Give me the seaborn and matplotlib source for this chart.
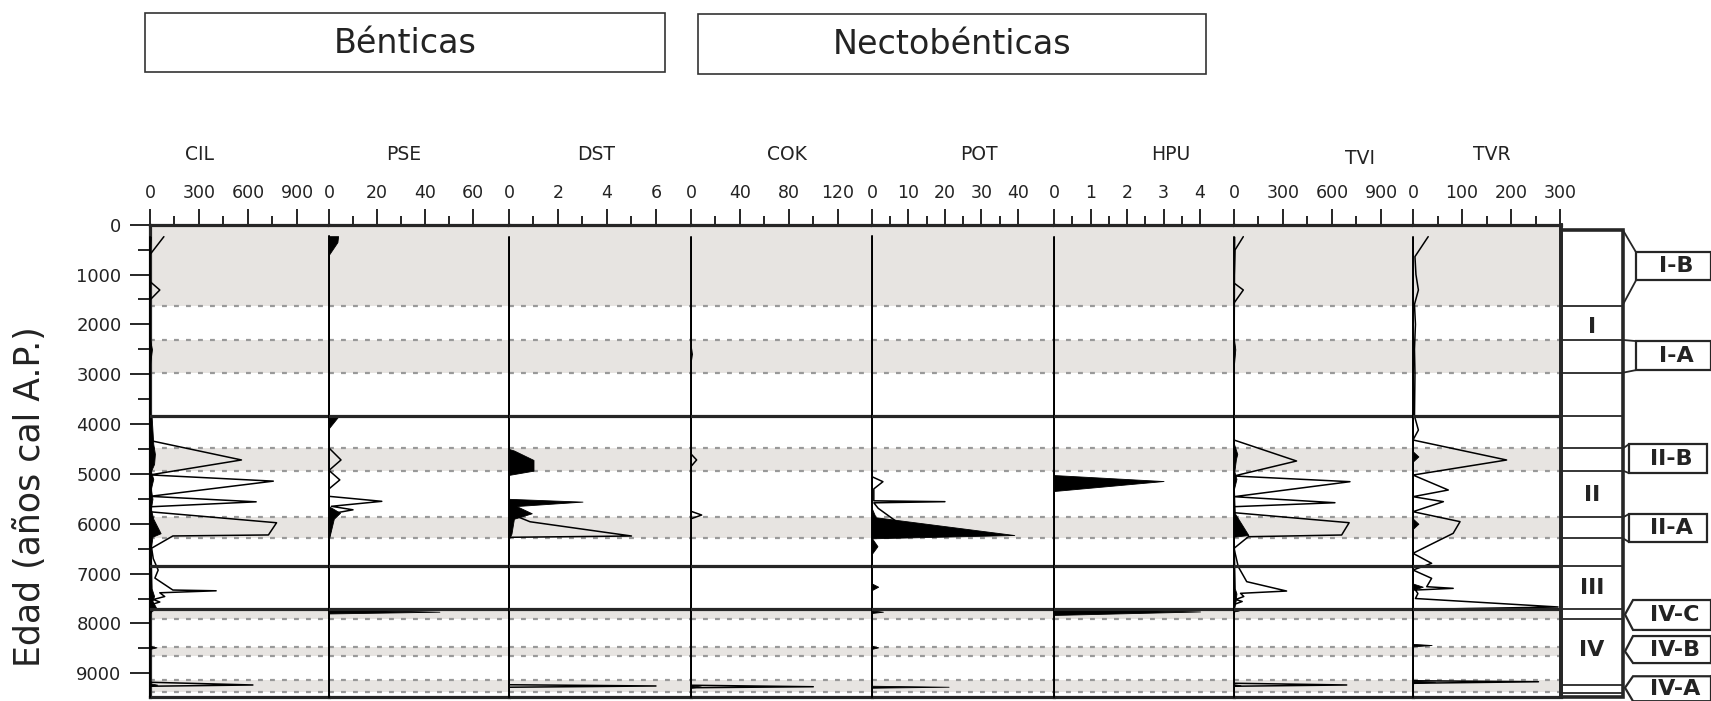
import matplotlib
matplotlib.use("Agg")
import matplotlib.pyplot as plt
import seaborn as sns
import pandas as pd
from matplotlib.patches import Rectangle, Polygon

sns.set_theme(style="white")
plt.rcParams['font.family'] = ['DejaVu Sans']

# ---------------- data ----------------
GROUPS = ["Bénticas", "Nectobénticas"]
TAXA = ["CIL", "PSE", "DST", "COK", "POT", "HPU", "TVI", "TVR"]
AXIS_MAX = [1096, 75, 7.43, 148, 49.9, 4.93, 1096, 302]
MAJOR_TICKS = [[0, 300, 600, 900], [0, 20, 40, 60], [0, 2, 4, 6], [0, 40, 80, 120],
               [0, 10, 20, 30, 40], [0, 1, 2, 3, 4], [0, 300, 600, 900], [0, 100, 200, 300]]
MINOR_STEP = [150, 10, 1, 20, 5, 0.5, 150, 50]

# exaggerated (outline) curves: (age, value)
CIL_LINE = [(240, 85), (600, 0), (1140, 0), (1310, 60), (1510, 0), (4330, 0), (4720, 560),
            (5020, 0), (5145, 755), (5450, 0), (5560, 650), (5660, 0), (5760, 0), (5980, 775),
            (6225, 725), (6245, 140), (6490, 10), (6700, 20), (6930, 50), (7090, 30), (7330, 140),
            (7345, 405), (7385, 60), (7460, 90), (7520, 20), (7570, 60), (7620, 10), (7720, 0),
            (9180, 0), (9235, 630), (9260, 0), (9450, 0)]
CIL_FILL = [(240, 5), (500, 0), (2300, 0), (2500, 12), (2800, 0), (3800, 0), (3850, 10),
            (4400, 20), (4600, 30), (4800, 25), (4950, 5), (5100, 20), (5300, 5), (5500, 15),
            (5700, 5), (5900, 20), (6190, 65), (6260, 15), (6500, 5), (7300, 10), (7450, 25),
            (7550, 15), (7700, 40), (7750, 10), (7800, 0), (8450, 0), (8480, 40), (8510, 0),
            (9200, 0), (9230, 45), (9260, 0), (9450, 0)]

PSE_LINE = [(230, 0), (4480, 0), (4720, 5), (4930, 0), (5120, 4.5), (5300, 0), (5450, 0),
            (5550, 22), (5650, 1), (5720, 10), (5790, 2), (6300, 0), (9450, 0)]
PSE_FILL = [(230, 3.8), (350, 3.5), (600, 0), (3830, 0), (3840, 4), (4080, 0), (5650, 0),
            (5780, 4.6), (5900, 2), (6300, 0), (7715, 0), (7765, 46), (7800, 0), (9450, 0)]

DST_LINE = [(250, 0), (5790, 0), (5960, 0.86), (6246, 5.0), (6272, 0), (9230, 0), (9255, 6.0),
            (9280, 0), (9450, 0)]
DST_FILL = [(250, 0), (4500, 0), (4530, 0.2), (4720, 1.0), (4935, 1.0), (5020, 0), (5500, 0),
            (5556, 3.0), (5645, 0.3), (5790, 0.93), (5900, 0.2), (6200, 0.1), (6300, 0), (9450, 0)]

COK_LINE = [(250, 0), (2450, 0), (2600, 1), (2750, 0), (4600, 0), (4720, 4.6), (4850, 0),
            (5750, 0), (5825, 8.7), (5900, 0), (9240, 0), (9270, 100), (9290, 0), (9450, 0)]
COK_FILL = [(250, 0), (9240, 0), (9265, 8), (9290, 0), (9450, 0)]

POT_LINE = [(230, 0), (5056, 0), (5156, 3), (5300, 0.5), (5540, 0.5), (5557, 20), (5580, 0.5),
            (5690, 1.7), (5960, 6.8), (6000, 0), (9450, 0)]
POT_FILL = [(230, 0), (5700, 0), (5870, 1.0), (6226, 39), (6292, 0), (6450, 1.5), (6600, 0),
            (7200, 0), (7263, 1.7), (7330, 0), (7740, 0), (7765, 3), (7790, 0), (8450, 0),
            (8480, 1.7), (8510, 0), (9250, 0), (9270, 21), (9290, 0), (9450, 0)]

HPU_LINE = [(250, 0), (9450, 0)]
HPU_FILL = [(250, 0), (5023, 0), (5143, 3.0), (5343, 0), (7695, 0), (7760, 4.0), (7830, 0),
            (9450, 0)]

TVI_LINE = [(240, 57), (508, 6), (1170, 0), (1310, 57), (1573, 0), (4320, 0), (4741, 383),
            (5042, 0), (5156, 710), (5457, 0), (5578, 618), (5658, 0), (5778, 0), (5979, 705),
            (6226, 659), (6260, 88), (6493, 0), (6861, 26), (7162, 78), (7350, 322), (7396, 40),
            (7460, 60), (7520, 10), (7560, 50), (7620, 0), (9200, 0), (9235, 690), (9260, 0),
            (9450, 0)]
TVI_FILL = [(240, 3), (2300, 0), (2500, 8), (2800, 0), (4400, 0), (4600, 20), (4700, 12),
            (4950, 2), (5100, 15), (5300, 0), (5791, 5), (6226, 88), (6260, 0), (7300, 5),
            (7400, 15), (7550, 10), (7720, 0), (7740, 30), (7760, 0), (9220, 0), (9240, 40),
            (9260, 0), (9450, 0)]

TVR_LINE = [(240, 31), (640, 4), (1000, 6), (1310, 11), (1600, 3), (2000, 5), (2500, 3),
            (3000, 4), (3838, 3), (4120, 11), (4320, 0), (4721, 191), (5023, 0), (5323, 72),
            (5457, 0), (5557, 62), (5758, 0), (5958, 96), (6192, 82), (6593, 0), (6794, 38),
            (6928, 0), (7095, 38), (7263, 28), (7296, 82), (7330, 5), (7400, 10), (7500, 5),
            (7670, 296), (7720, 0), (9150, 0), (9170, 256), (9200, 0), (9450, 0)]
TVR_FILL = [(240, 0), (4550, 0), (4650, 11), (4750, 0), (5900, 0), (6000, 11), (6100, 0),
            (7200, 0), (7263, 20), (7330, 0), (8410, 0), (8433, 38), (8460, 0), (9150, 0),
            (9170, 45), (9200, 0), (9450, 0)]

LINES = [CIL_LINE, PSE_LINE, DST_LINE, COK_LINE, POT_LINE, HPU_LINE, TVI_LINE, TVR_LINE]
FILLS = [CIL_FILL, PSE_FILL, DST_FILL, COK_FILL, POT_FILL, HPU_FILL, TVI_FILL, TVR_FILL]

# zonation (ages, cal BP)
AGE_MAX = 9470
BANDS = [(0, 1630), (2313, 2969), (4487, 4935), (5871, 6292), (7717, 7917), (8467, 8654), (9135, 9370)]
DASHED = [1630, 2313, 2969, 4487, 4935, 5871, 6292, 7917, 8467, 8654, 9135, 9370]
ZONE_LIMITS = [3838, 6848, 7717]
ZONE_COL_LINES = [1630, 2313, 2969, 3838, 4487, 4935, 5871, 6292, 6848, 7717, 7917, 9240, 9400]
ZONES = ["I", "II", "III", "IV"]
ZONE_LABEL_AGE = [2050, 5430, 7290, 8540]
SUBZONES = ["I-B", "I-A", "II-B", "II-A", "IV-C", "IV-B", "IV-A"]

# ---------------- layout ----------------
W, H = 1711, 701
fig = plt.figure(figsize=(W / 100, H / 100), dpi=100)
fig.patch.set_facecolor("white")
TOP, BOT = 224.7, 696.7
PANEL_X = [150, 329, 509, 691, 872, 1054, 1234, 1413, 1561]
BAND_COLOR = "#e7e4e1"
DASH_COLOR = "#999999"
THICK = "#262626"
TXT = "#232323"


def fax(x0, x1, y0=TOP, y1=BOT):
    return fig.add_axes([x0 / W, 1 - y1 / H, (x1 - x0) / W, (y1 - y0) / H])


for i, name in enumerate(TAXA):
    ax = fax(PANEL_X[i], PANEL_X[i + 1])
    for a0, a1 in BANDS:
        ax.axhspan(a0, a1, color=BAND_COLOR, lw=0, zorder=0)
    for d in DASHED:
        ax.axhline(d, color=DASH_COLOR, lw=1.6, ls=(0, (2.2, 3.2)), zorder=1)
    line_df = pd.DataFrame(LINES[i], columns=["age", "value"])
    fill_df = pd.DataFrame(FILLS[i], columns=["age", "value"])
    sns.lineplot(data=line_df, x="value", y="age", orient="y", sort=False, estimator=None,
                 color="black", lw=1.1, ax=ax, zorder=3)
    ax.fill_betweenx(fill_df["age"], 0, fill_df["value"], color="black", lw=0.6,
                     edgecolor="black", zorder=4)
    ax.plot([0, 0], [fill_df["age"].min(), AGE_MAX], color="black", lw=1.4, zorder=5,
            clip_on=False)
    for z in ZONE_LIMITS:
        ax.axhline(z, color=THICK, lw=2.3, zorder=6)
    ax.set_xlim(0, AXIS_MAX[i])
    ax.set_ylim(AGE_MAX, 0)
    ax.set_xlabel("")
    ax.set_ylabel("")
    for s in ["left", "right"]:
        ax.spines[s].set_visible(False)
    for s in ["top", "bottom"]:
        ax.spines[s].set_linewidth(2.3)
        ax.spines[s].set_color(THICK)
    ax.xaxis.tick_top()
    ax.set_xticks(MAJOR_TICKS[i])
    step = MINOR_STEP[i]
    minors = []
    v = step
    while v < MAJOR_TICKS[i][-1]:
        if all(abs(v - m) > 1e-9 for m in MAJOR_TICKS[i]):
            minors.append(v)
        v += step
    ax.set_xticks(minors, minor=True)
    ax.set_xticklabels([str(t) for t in MAJOR_TICKS[i]])
    ax.tick_params(axis="x", which="major", direction="out", length=11.5, width=1.2,
                   color="black", labelsize=12.5, pad=5, labelcolor=TXT)
    ax.tick_params(axis="x", which="minor", direction="out", length=6.5, width=1.2, color="black")
    if i == 0:
        ax.spines["left"].set_visible(True)
        ax.spines["left"].set_linewidth(2.3)
        ax.spines["left"].set_color(THICK)
        ax.yaxis.tick_left()
        ax.set_yticks(range(0, 9001, 1000))
        ax.set_yticks(range(500, 9001, 1000), minor=True)
        ax.tick_params(axis="y", which="major", direction="out", length=14.5, width=1.4,
                       labelsize=13, pad=6, color=THICK, labelcolor=TXT)
        ax.tick_params(axis="y", which="minor", direction="out", length=8.5, width=1.4,
                       color=THICK)
    else:
        ax.set_yticks([])
    if i == len(TAXA) - 1:
        ax.spines["right"].set_visible(True)
        ax.spines["right"].set_linewidth(2.8)
        ax.spines["right"].set_color(THICK)
    ax.set_facecolor("none")

# zone column + subzone boxes
zax = fax(1561, 1711)
zax.set_xlim(0, 150)
zax.set_ylim(AGE_MAX, 0)
zax.axis("off")
zax.add_patch(Rectangle((0, 110), 62, AGE_MAX - 110, fill=False, lw=2.6, edgecolor=THICK,
                        clip_on=False))
for z in ZONE_COL_LINES:
    zax.plot([0, 62], [z, z], color=THICK, lw=1.3, clip_on=False)
for zname, za in zip(ZONES, ZONE_LABEL_AGE):
    zax.text(31, za, zname, ha="center", va="center", fontsize=16, fontweight="bold",
             color=TXT)

box_specs = {
    "I-B": dict(x0=75, x1=150, a0=552, a1=1117, c0=110, c1=1600, tip=None),
    "I-A": dict(x0=75, x1=150, a0=2335, a1=2917, c0=2313, c1=2969, tip=None),
    "II-B": dict(x0=68, x1=146, a0=4403, a1=4985, c0=4487, c1=4935, tip=None),
    "II-A": dict(x0=68, x1=146, a0=5805, a1=6367, c0=5871, c1=6292, tip=None),
    "IV-C": dict(x0=72, x1=150, a0=7530, a1=8131, c0=None, c1=None, tip=7820),
    "IV-B": dict(x0=72, x1=150, a0=8253, a1=8795, c0=None, c1=None, tip=8560),
    "IV-A": dict(x0=72, x1=150, a0=9060, a1=9560, c0=None, c1=None, tip=9290),
}
for sz in SUBZONES:
    b = box_specs[sz]
    if b["tip"] is None:
        zax.add_patch(Rectangle((b["x0"], b["a0"]), b["x1"] - b["x0"], b["a1"] - b["a0"],
                                fill=False, lw=1.6, edgecolor=THICK, clip_on=False))
        zax.plot([62, b["x0"]], [b["c0"], b["a0"]], color=THICK, lw=1.3, clip_on=False)
        zax.plot([62, b["x0"]], [b["c1"], b["a1"]], color=THICK, lw=1.3, clip_on=False)
    else:
        pts = [(b["x1"], b["a0"]), (b["x0"], b["a0"]), (64, b["tip"]), (b["x0"], b["a1"]),
               (b["x1"], b["a1"])]
        zax.add_patch(Polygon(pts, closed=False, fill=False, lw=1.6, edgecolor=THICK,
                              clip_on=False))
        zax.plot([b["x1"], b["x1"]], [b["a0"], b["a1"]], color=THICK, lw=1.6, clip_on=False)
    zax.text((b["x0"] + b["x1"]) / 2 + 3, (b["a0"] + b["a1"]) / 2, sz, ha="center",
             va="center", fontsize=16, fontweight="bold", color=TXT, clip_on=False)

# overlay: headers, taxon names, y label
ov = fig.add_axes([0, 0, 1, 1])
ov.set_xlim(0, W)
ov.set_ylim(H, 0)
ov.axis("off")
ov.patch.set_alpha(0)
for gname, (x0, y0, x1, y1) in zip(GROUPS, [(145, 13, 665, 72), (698, 14, 1206, 74)]):
    ov.add_patch(Rectangle((x0, y0), x1 - x0, y1 - y0, fill=False, lw=1.2, edgecolor="#333333"))
    ov.text((x0 + x1) / 2, (y0 + y1) / 2 + 1, gname, ha="center", va="center", fontsize=24,
            color=TXT)
NAME_X = [200, 404, 596, 787, 979, 1171, 1360, 1492]
NAME_Y = [155, 155, 155, 155, 155, 155, 158, 155]
for name, nx, ny in zip(TAXA, NAME_X, NAME_Y):
    ov.text(nx, ny, name, ha="center", va="center", fontsize=13.5, color=TXT)
ov.text(30, 497, "Edad (años cal A.P.)", rotation=90, ha="center", va="center", fontsize=25,
        color=TXT)

fig.savefig("out.png", dpi=100)
